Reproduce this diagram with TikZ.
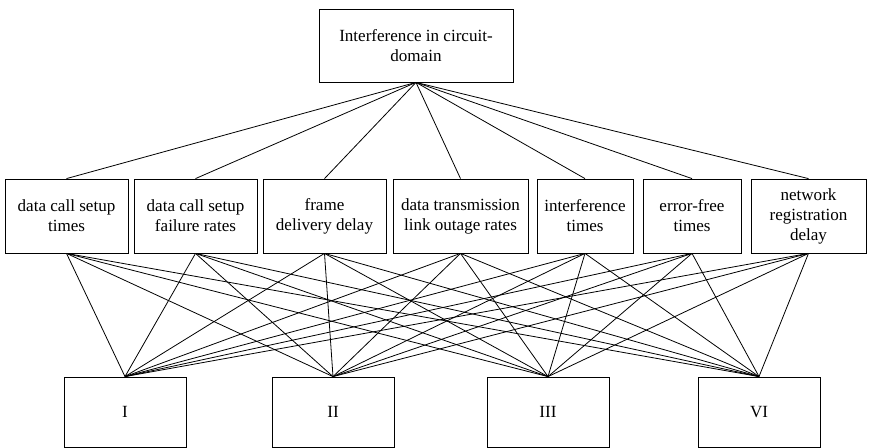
\documentclass[tikz,border=0pt]{standalone}
\usepackage{fontspec}
\setmainfont{Liberation Serif}
\newfontfamily\boxfont{Liberation Serif}
\usepackage{tikz}
\usetikzlibrary{positioning}

\begin{document}
\begin{tikzpicture}[x=0.75pt, y=-0.75pt, line width=0.6pt,
    box/.style={rectangle, draw, align=center, inner sep=2pt,
      font=\boxfont\fontsize{12.8}{15}\selectfont, minimum height=55.5pt}]
  \useasboundingbox (0,0) rectangle (869,448);

  % top
  \node[box, minimum width=145.5pt, minimum height=54.75pt] (Top) at (416,45.5) {Interference in circuit-\\domain};

  % indicators
  \node[box, minimum width=92.25pt] (Setup)   at (66.5,216)  {data call setup\\times};
  \node[box, minimum width=92.25pt] (Fail)    at (195.5,216) {data call setup\\failure rates};
  \node[box, minimum width=92.25pt] (Frame)   at (324.5,216) {frame\\delivery delay};
  \node[box, minimum width=101.25pt] (Outage) at (460.5,216) {data transmission\\link outage rates};
  \node[box, minimum width=72pt] (Interf)     at (585,216)   {interference\\times};
  \node[box, minimum width=73.5pt] (ErrFree)  at (692,216)   {error-free\\times};
  \node[box, minimum width=86.25pt] (NetReg)  at (808.5,216) {network\\registration\\delay};

  % levels
  \node[box, minimum width=91.5pt, minimum height=52.5pt] (I)   at (125,412) {I};
  \node[box, minimum width=91.5pt, minimum height=52.5pt] (II)  at (333,412) {II};
  \node[box, minimum width=91.5pt, minimum height=52.5pt] (III) at (548,412) {III};
  \node[box, minimum width=91.5pt, minimum height=52.5pt] (VI)  at (759,412) {VI};

  \foreach \m in {Setup, Fail, Frame, Outage, Interf, ErrFree, NetReg} {
    \draw (Top.south) -- (\m.north);
    \foreach \l in {I, II, III, VI}
      \draw (\m.south) -- (\l.north);
  }
\end{tikzpicture}
\end{document}
